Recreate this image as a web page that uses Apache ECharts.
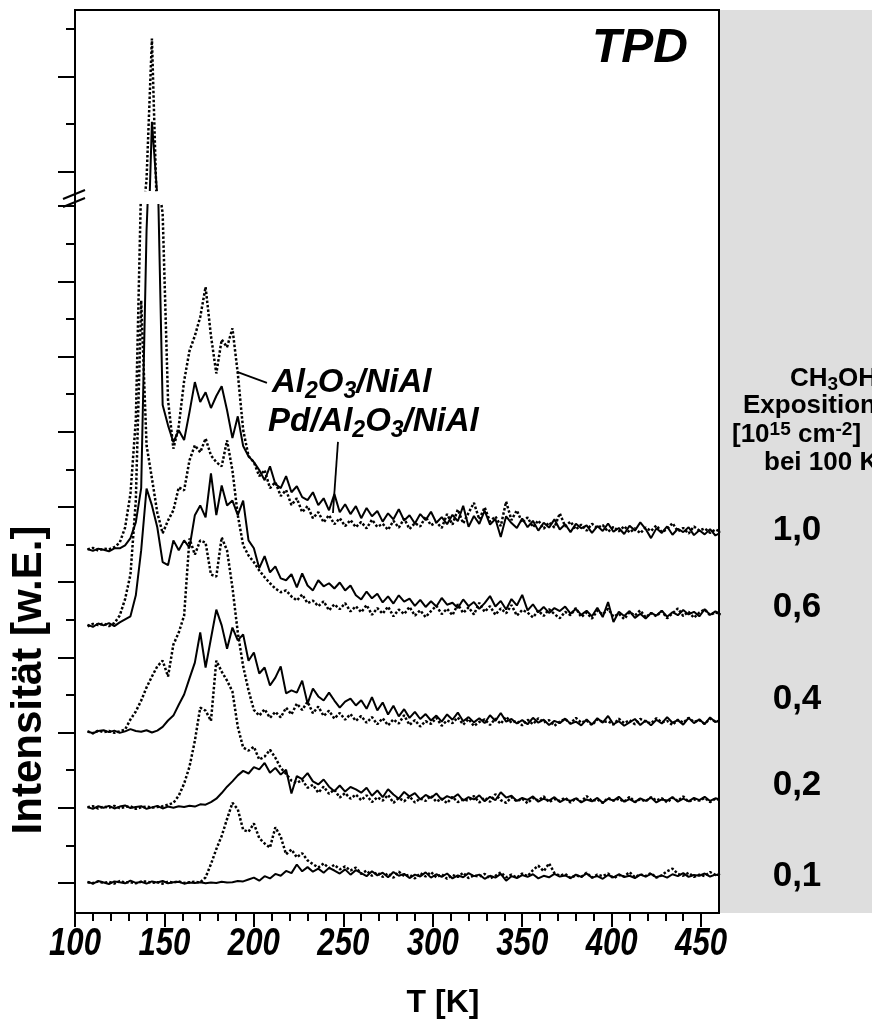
<!DOCTYPE html>
<html><head><meta charset="utf-8">
<script src="https://cdn.jsdelivr.net/npm/echarts@6/dist/echarts.min.js"></script>
<style>html,body{margin:0;padding:0;background:#fff}#c{width:872px;height:1027px}</style>
</head><body><div id="c"></div>
<script>
// Temperature sampling grid [K]
const temperatureK = [
107,110,113,116,119,122,125,128,131,134,
137,140,143,146,149,152,155,158,161,164,
167,170,173,176,179,182,185,188,191,194,
197,200,203,206,209,212,215,218,221,224,
227,230,233,236,239,242,245,248,251,254,
257,260,263,266,269,272,275,278,281,284,
287,290,293,296,299,302,305,308,311,314,
317,320,323,326,329,332,335,338,341,344,
347,350,353,356,359,362,365,368,371,374,
377,380,383,386,389,392,395,398,401,404,
407,410,413,416,419,422,425,428,431,434,
437,440,443,446,449,452,455,458,461];

const exposures = ['1,0','0,6','0,4','0,2','0,1'];
const baselineOffsets = [88.5, 68.5, 40, 20, 0];

// Pd/Al2O3/NiAl (solid)
const pd_10 = [
0.3,-0.2,0.4,0.1,-0.3,0.5,0.5,1.3,3.2,7.4,
16.5,85,122,106.5,38.6,33.2,28.7,31.9,29.3,36.7,
44.7,39.4,42,37.8,41,43.6,37.2,29.8,35.6,27.7,
25,23.4,21.3,18.6,22.3,17.6,16.5,19.7,15.4,17,
14.1,13.3,15.4,12,13.8,10.6,14.9,10.1,12.2,9.6,
11.7,8.5,11.2,9.0,10.4,7.6,9.8,8.2,10.9,7.9,
9.3,7.1,9.6,8.0,10.2,7.3,8.8,6.9,9.4,7.7,
11.8,6.2,9.1,7.0,10.5,6.8,8.3,3.5,9.0,7.2,
5.9,8.4,6.1,7.8,5.2,7.3,6.0,8.2,5.5,6.9,
4.8,7.0,5.8,6.6,4.6,6.4,5.1,7.1,4.9,5.9,
4.3,6.5,5.2,7.4,5.6,3.2,5.8,4.6,6.3,4.1,
5.7,4.8,6.1,4.0,5.3,4.2,5.6,3.9,4.7];
const pd_06 = [
0.2,-0.4,0.5,0.0,0.6,-0.2,0.8,1.6,2.4,8,
20,36.4,31.9,26.1,16.8,16,22.6,20,22.6,20.7,
29.3,31.9,28.7,40.4,29.3,37.2,31.9,33.2,29.3,33.2,
22.6,20.5,15.2,18.4,14.1,15.7,12.5,12,13.6,10.1,
13.8,10.6,9.3,12,10.4,11.2,9.8,11.4,9.3,10.6,
8,6.9,9.0,7.2,8.4,6.1,7.7,5.8,8.0,6.3,
7.1,5.2,6.8,4.9,6.4,5.0,7.3,5.5,6.0,4.6,
6.9,5.1,6.2,4.4,5.9,7.8,5.0,6.5,4.2,7.0,
5.3,8.1,4.0,5.6,3.5,4.9,3.3,4.6,3.8,5.0,
3.1,4.4,2.8,3.9,2.4,4.7,2.2,6.2,0.9,3.6,
2.5,3.8,2.0,3.1,1.8,3.3,2.6,3.9,2.3,3.5,
2.7,4.1,2.9,3.6,2.4,4.3,2.8,3.7,3.0];
const pd_04 = [
0.3,-0.2,0.4,0.6,0.1,0.5,-0.1,0.3,0.9,0.4,
0.2,0.6,0.0,0.5,1.5,3.2,4.5,7.4,10.1,14.4,
18.6,26.6,17.3,25,32.7,28.5,22.3,27.9,24.5,26.1,
19.1,21.3,15.7,17.3,12.5,14.6,17.6,10.4,11.2,10.6,
13.8,7.7,11.7,9.6,8.5,10.6,8.5,6.6,8.2,9.0,
7.2,8.6,6.3,9.4,5.9,8.0,4.8,7.1,4.3,6.2,
3.9,5.5,3.6,4.9,3.2,4.5,2.9,4.8,3.4,5.3,
3.0,4.1,2.7,3.8,2.5,4.6,3.1,5.2,2.9,3.6,
2.4,3.3,2.2,3.9,2.6,3.4,2.0,3.1,2.5,3.7,
2.3,2.9,1.9,3.5,2.1,3.8,2.6,4.4,2.2,3.0,
1.8,2.7,3.6,2.0,3.2,1.9,3.4,2.4,4.1,2.6,
3.3,2.1,3.9,2.5,3.5,2.2,4.0,2.8,3.3];
const pd_02 = [
0.2,-0.3,0.4,0.0,0.5,-0.2,0.3,0.6,-0.1,0.2,
0.4,-0.3,0.1,0.5,-0.2,0.3,0.0,0.4,0.2,0.5,
0.3,0.9,0.8,1.5,2.4,3.9,5.6,7.0,8.6,9.8,
9.1,10.8,10.2,11.9,9.3,10.6,8.8,10.1,3.8,8.4,
7.6,9.2,7.0,6.2,7.5,5.6,4.4,5.9,4.3,5.5,
4.9,4.0,5.3,3.2,4.6,2.8,4.9,3.5,2.4,4.2,
3.0,3.9,2.2,3.4,2.6,3.8,2.1,3.1,2.5,3.6,
1.9,2.8,2.2,3.3,1.7,2.9,2.0,4.1,2.7,3.2,
1.8,2.6,2.1,3.0,1.6,2.4,1.9,2.8,1.5,2.3,
1.8,2.5,1.4,2.2,1.7,2.6,1.3,2.4,1.9,2.9,
1.6,2.3,1.5,2.5,1.8,2.7,1.4,2.2,1.9,2.8,
1.6,2.4,1.7,2.6,2.0,2.9,1.8,2.5,2.1];
const pd_01 = [
0.3,-0.2,0.5,0.1,-0.3,0.4,0.2,-0.1,0.6,0.0,
0.3,-0.2,0.4,0.1,0.5,-0.1,0.2,0.3,-0.2,0.1,
0.0,0.2,-0.1,0.1,0.0,0.3,0.1,0.2,0.5,0.4,
0.9,1.4,0.6,1.8,1.2,2.4,1.9,3.2,2.6,4.9,
3.1,4.2,3.0,3.8,2.7,4.0,3.3,2.5,3.6,2.2,
3.4,2.6,1.8,3.1,2.0,2.7,1.5,2.9,1.9,2.4,
1.3,2.2,1.7,2.8,1.4,2.3,1.6,2.5,1.2,2.0,
1.5,2.6,1.8,2.2,1.1,1.9,1.4,2.4,0.6,1.8,
1.3,2.1,1.6,2.3,1.2,1.9,1.5,2.4,1.7,2.0,
1.3,2.2,1.6,2.5,1.4,1.8,1.1,2.1,1.5,2.3,
1.6,1.9,1.3,2.2,1.7,2.4,1.5,2.0,1.4,2.3,
1.8,2.6,1.6,2.1,1.9,2.5,1.7,2.2,2.0];

// Al2O3/NiAl (dotted)
const al_10 = [
0.2,0.6,-0.1,0.4,0.2,0.8,2,6,15,34.6,
98,110,139.4,100,89.5,40,27,33,45,53,
57,62,70,57,47,56,54,59,47,32,
25,23.4,19.7,21.3,16.5,18.1,14.4,16,12,13.8,
10.1,11.7,8.5,10.1,7.4,9.3,6.9,8.5,6.4,8,
6.1,7.5,5.8,8.1,6.2,7.0,5.4,7.8,6.0,8.4,
5.6,7.2,6.3,8.9,6.6,7.5,5.9,9.6,6.8,10.8,
7.1,9.9,12.6,8.2,11.4,7.6,9.0,6.4,12.9,8.0,
10.6,7.3,8.7,6.1,7.9,5.7,7.4,6.0,9.8,6.3,
7.6,5.5,6.8,5.2,7.0,5.9,6.7,4.9,6.2,5.0,
6.4,4.7,5.8,4.5,6.0,5.1,6.6,4.8,5.6,7.2,
5.0,5.9,4.4,6.3,5.2,5.8,4.6,5.5,4.9];
const al_06 = [
-0.3,0.4,0.1,0.5,-0.2,0.6,2.6,7,13.5,33.2,
86.4,47.9,39.1,30,24.5,27.9,30.6,36.7,35.9,43.9,
47.9,46,49.7,45.2,43.4,42.3,49.2,41.2,29.3,21.3,
18.6,16.8,14.6,12.8,11.2,9.8,8.8,9.3,7.7,6.6,
8.2,5.9,6.6,5.1,6.4,4,5.6,4.3,5.9,3.7,
5.1,3.5,5.4,2.8,4.6,3.1,5.0,2.4,4.2,3.0,
4.9,2.6,4.0,2.2,3.8,5.2,3.0,4.4,2.7,5.6,
3.3,4.8,2.9,6.0,3.6,5.1,2.8,4.5,3.2,5.4,
2.6,4.1,3.4,2.1,3.9,2.5,4.3,3.0,1.9,3.6,
2.7,4.6,2.2,3.4,1.8,3.9,2.9,4.4,2.3,3.1,
1.7,3.5,2.6,4.0,2.1,3.3,2.4,3.8,1.9,3.2,
4.5,2.5,3.6,2.0,3.4,4.2,2.7,3.5,2.9];
const al_04 = [
0.3,-0.2,0.5,0.1,0.4,-0.1,0.3,0.8,3.5,5.6,
8.5,12,14.9,17.6,19.1,14.9,23.4,26.6,31.1,51.6,
47.3,51.1,50.5,42,41.5,51.9,48.4,38.6,26.6,17.6,
11.2,6.0,4.5,6.2,3.9,5.5,4.0,6.6,4.8,7.7,
6.0,8.2,5.1,6.9,4.4,5.8,3.7,5.2,3.4,4.9,
3.1,4.4,2.6,4.1,2.2,3.8,1.9,3.5,2.4,4.6,
2.0,3.3,1.6,3.0,2.3,3.9,1.8,3.2,2.5,4.0,
2.1,3.6,1.7,2.8,3.5,2.0,3.7,2.3,4.2,2.6,
3.1,1.9,3.4,2.2,3.8,2.7,3.3,1.8,2.9,3.6,
2.4,3.9,2.6,3.2,2.0,3.5,2.8,3.0,2.1,3.7,
2.5,3.3,2.2,3.6,2.9,2.4,3.8,2.7,3.1,2.0,
3.4,2.6,3.9,2.8,3.3,2.3,3.7,2.9,3.2];
const al_02 = [
0.1,0.4,-0.2,0.3,0.0,0.5,-0.1,0.2,0.4,-0.3,
0.1,0.3,0.0,0.2,0.4,0.8,1.3,3.2,6.4,10.9,
17.8,26.6,25.8,23.1,39.1,36.2,33.8,30.9,21.5,16,
15.2,16.2,12.8,13.6,15.4,13.3,10.6,9.0,7.2,6.6,
7.4,5.3,6.1,4.0,5.6,3.7,4.8,2.7,3.9,2.4,
3.5,2.0,3.3,1.5,2.8,1.9,3.4,1.3,2.6,1.7,
3.0,1.4,2.5,1.8,3.2,1.6,2.4,1.2,2.9,1.5,
2.2,1.9,3.1,1.4,2.7,1.6,3.6,2.0,1.3,2.8,
1.7,2.4,1.2,2.6,1.9,3.0,1.5,2.3,1.8,2.7,
1.4,2.5,1.6,3.1,1.8,2.2,1.3,2.6,1.9,2.4,
1.6,2.9,1.5,2.3,1.7,2.8,1.9,2.5,1.4,2.7,
1.8,3.0,1.6,2.2,1.9,2.6,1.5,2.4,2.0];
const al_01 = [
0.2,-0.1,0.4,0.0,0.3,-0.2,0.5,0.1,0.2,-0.1,
0.3,0.4,0.0,0.2,-0.2,0.3,0.1,0.4,0.0,0.2,
0.3,0.1,1.5,5.0,9.0,12.5,17.0,21.3,19.6,14.1,
13.6,15.8,11.9,10.5,9.4,14.8,12.3,7.6,8.9,6.8,
7.9,6.0,5.0,4.1,5.2,3.9,4.8,3.6,4.4,3.3,
4.1,2.4,3.3,1.9,2.8,1.6,2.5,1.4,3.0,1.8,
2.2,1.2,2.6,1.7,2.9,1.5,2.3,1.1,2.1,1.6,
2.7,1.3,2.0,1.7,2.4,1.2,1.9,2.8,1.5,2.2,
1.4,2.5,1.8,3.4,4.6,3.1,5.2,2.6,1.9,2.4,
1.3,2.0,1.6,2.7,1.4,2.2,1.8,2.5,1.2,2.1,
1.7,2.9,1.5,2.3,1.8,2.6,1.4,2.0,3.1,3.8,
2.4,1.9,2.7,1.6,2.2,1.8,2.9,2.1,2.5];

const pdCurves = [pd_10, pd_06, pd_04, pd_02, pd_01];
const alCurves = [al_10, al_06, al_04, al_02, al_01];

// axis ticks
const xMajorTicks = [100,150,200,250,300,350,400,450];
const xMinorTicks = [110,120,130,140,160,170,180,190,210,220,230,240,260,270,280,290,310,320,330,340,360,370,380,390,410,420,430,440];
const yLowerMajor = [0,20,40,60,80,100,120,140,160,180];
const yLowerMinor = [10,30,50,70,90,110,130,150,170];
const yUpperMajor = [200,220];
const yUpperMinor = [210,230];
// legend pointer lines [T, intensity]
const pointerAl = [[190.6,135.9],[207.3,133.0]];
const pointerPd = [[244.2,98.4],[247.0,117.3]];

const FONT = 'Liberation Sans, Arial, Helvetica, sans-serif';
const chart = echarts.init(document.getElementById('c'), null, {renderer:'canvas'});

const L = 75, R = 153, FRAME_TOP = 10, FRAME_BOTTOM = 114;
const LOWER_TOP = 205, UPPER_BOTTOM = 837;

function pts(arr, off){ return temperatureK.map((t,i)=>[t, off + arr[i]]); }

const solidStyle = {color:'#000', width:2, type:'solid'};
const dotStyle = {color:'#000', width:2.5, type:[2.5,2], cap:'butt'};

const series = [];
exposures.forEach((e, k) => {
  series.push({type:'line', name:'Al2O3/NiAl '+e, xAxisIndex:0, yAxisIndex:0, data:pts(alCurves[k], baselineOffsets[k]),
    showSymbol:false, symbol:'none', lineStyle:dotStyle, clip:true, z:3});
  const s = {type:'line', name:'Pd/Al2O3/NiAl '+e, xAxisIndex:0, yAxisIndex:0, data:pts(pdCurves[k], baselineOffsets[k]),
    showSymbol:false, symbol:'none', lineStyle:solidStyle, clip:true, z:4};
  if (k === 0) {
    s.markLine = {silent:true, symbol:['none','none'], label:{show:false},
      lineStyle:{color:'#000', width:1.8, type:'solid'},
      data:[[{coord:pointerAl[0]},{coord:pointerAl[1]}],[{coord:pointerPd[0]},{coord:pointerPd[1]}]]};
  }
  series.push(s);
});
series.push({type:'line', xAxisIndex:2, yAxisIndex:2, data:pts(al_10, baselineOffsets[0]), showSymbol:false, symbol:'none', lineStyle:dotStyle, clip:true, z:3});
series.push({type:'line', xAxisIndex:2, yAxisIndex:2, data:pts(pd_10, baselineOffsets[0]), showSymbol:false, symbol:'none', lineStyle:solidStyle, clip:true, z:4});

const tickLine = {color:'#000', width:2};
const noLine = {show:false, onZero:false};
const hiddenX = (g) => ({gridIndex:g, type:'value', show:false, min:0, max:1, axisLine:noLine});
const hiddenY = (g) => ({gridIndex:g, type:'value', show:false, min:0, max:1, axisLine:noLine});
const yAx = (g, mn, mx, ticks, len) => ({gridIndex:g, type:'value', position:'left', offset:0, min:mn, max:mx,
  axisLine:noLine, splitLine:{show:false}, axisLabel:{show:false},
  axisTick:{show:true, customValues:ticks, length:len, lineStyle:tickLine}});

chart.setOption({
  animation:false,
  backgroundColor:'#fff',
  textStyle:{fontFamily:FONT},
  grid:[
    {left:L, right:R, top:LOWER_TOP, bottom:FRAME_BOTTOM, show:false},
    {left:L, right:R, top:FRAME_TOP, bottom:UPPER_BOTTOM, show:false},
    {left:L, right:R, top:FRAME_TOP, bottom:FRAME_BOTTOM, show:true, borderColor:'#000', borderWidth:2, backgroundColor:'transparent', z:5},
    {left:720, right:0, top:FRAME_TOP, bottom:FRAME_BOTTOM, show:true, borderWidth:0, backgroundColor:'#dedede'}
  ],
  xAxis:[
    {gridIndex:0, type:'value', min:100, max:460, position:'bottom', axisLine:noLine, splitLine:{show:false},
      axisTick:{show:true, customValues:xMajorTicks, length:14, lineStyle:tickLine},
      axisLabel:{show:false}},
    {gridIndex:0, type:'value', min:100, max:460, position:'bottom', axisLine:noLine, splitLine:{show:false},
      axisTick:{show:true, customValues:xMinorTicks, length:8, lineStyle:tickLine},
      axisLabel:{show:false}},
    {gridIndex:1, type:'value', min:100, max:460, show:false, axisLine:noLine},
    hiddenX(2), hiddenX(3)
  ],
  yAxis:[
    yAx(0, -8.0, 180.3, yLowerMajor, 17),
    yAx(0, -8.0, 180.3, yLowerMinor, 9),
    yAx(1, 196.2, 233.9, yUpperMajor, 17),
    yAx(1, 196.2, 233.9, yUpperMinor, 9),
    hiddenY(2), hiddenY(3)
  ],
  series: series
});

// ---- text decorations ----
const subRich = {
  m:{fontSize:33, fontWeight:'bold', fontStyle:'italic', fontFamily:FONT, lineHeight:40, fill:'#000'},
  s:{fontSize:23, fontWeight:'bold', fontStyle:'italic', fontFamily:FONT, lineHeight:16, verticalAlign:'bottom', fill:'#000'}
};
const hdrRich = {
  m:{fontSize:26, fontWeight:'bold', fontFamily:FONT, lineHeight:30, fill:'#000'},
  s:{fontSize:19, fontWeight:'bold', fontFamily:FONT, lineHeight:12, verticalAlign:'bottom', fill:'#000'},
  p:{fontSize:19, fontWeight:'bold', fontFamily:FONT, lineHeight:12, verticalAlign:'top', fill:'#000'}
};
const labelYs = [530, 607, 699, 785, 876];
const headerLines = ['{m|CH}{s|3}{m|OH}', '{m|Exposition}', '{m|[10}{p|15}{m| cm}{p|-2}{m|]}', '{m|bei 100 K}'];
const headerYs = [379, 406, 435, 463];
const headerXs = [790, 743, 732, 764];

const graphic = [
  {type:'line', shape:{x1:63,y1:207,x2:85,y2:198}, style:{stroke:'#000', lineWidth:2}, z:100},
  {type:'line', shape:{x1:63,y1:199,x2:85,y2:190}, style:{stroke:'#000', lineWidth:2}, z:100},
  {type:'text', x:640, y:49, z:100, style:{text:'TPD', fontSize:48, fontWeight:'bold', fontStyle:'italic', fontFamily:FONT, fill:'#000', align:'center', verticalAlign:'middle'}},
  {type:'text', x:272, y:383, z:100, style:{text:'{m|Al}{s|2}{m|O}{s|3}{m|/NiAl}', rich:subRich, align:'left', verticalAlign:'middle'}},
  {type:'text', x:268, y:422, z:100, style:{text:'{m|Pd/Al}{s|2}{m|O}{s|3}{m|/NiAl}', rich:subRich, align:'left', verticalAlign:'middle'}},
  {type:'text', x:29, y:680, rotation:Math.PI/2, z:100, style:{text:'Intensität [w.E.]', fontSize:42, fontWeight:'bold', fontFamily:FONT, fill:'#000', align:'center', verticalAlign:'middle'}},
  {type:'text', x:443, y:1003, z:100, style:{text:'T [K]', fontSize:32, fontWeight:'bold', fontFamily:FONT, fill:'#000', align:'center', verticalAlign:'middle'}}
];
headerLines.forEach((t,k)=>{
  graphic.push({type:'text', x:headerXs[k], y:headerYs[k], z:100, style:{text:t, rich:hdrRich, align:'left', verticalAlign:'middle'}});
});
exposures.forEach((e,k)=>{
  graphic.push({type:'text', x:797, y:labelYs[k], z:100, style:{text:e, fontSize:35, fontWeight:'bold', fontFamily:FONT, fill:'#000', align:'center', verticalAlign:'middle'}});
});
// x tick labels (condensed, placed through the axis scale)
xMajorTicks.forEach(v=>{
  const px = chart.convertToPixel({xAxisIndex:0}, v);
  graphic.push({type:'text', x:px, y:944, scaleX:0.8, z:100,
    style:{text:String(v), fontSize:39, fontWeight:'bold', fontStyle:'italic', fontFamily:FONT, fill:'#000', align:'center', verticalAlign:'middle'}});
});
chart.setOption({graphic: graphic});
</script>
</body></html>
